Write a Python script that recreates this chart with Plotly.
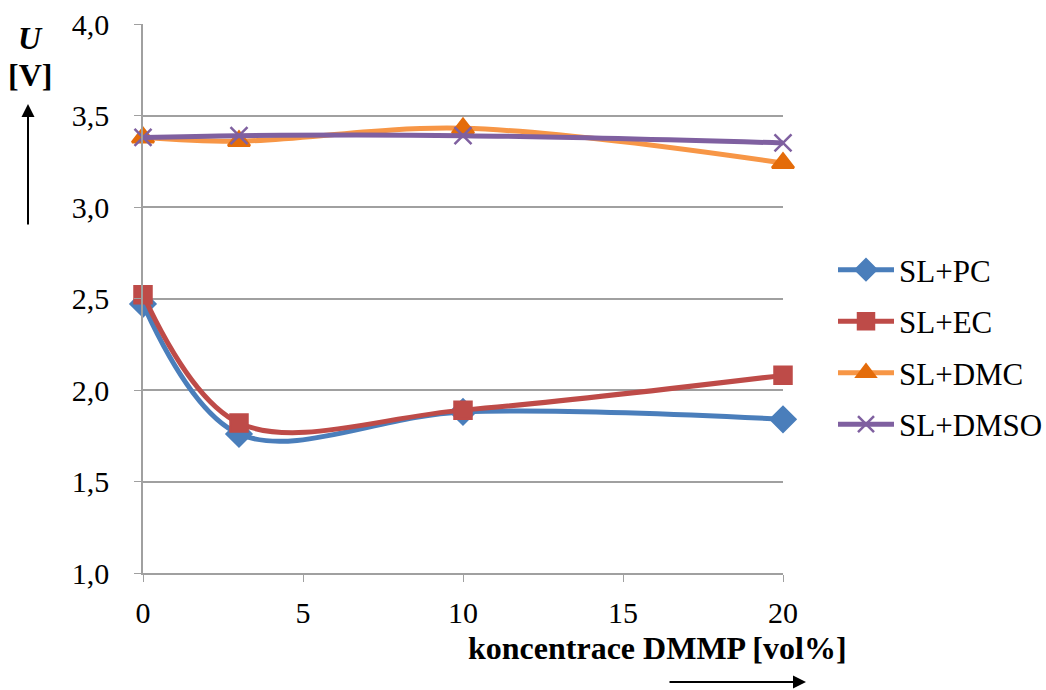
import plotly.graph_objects as go

# DMMP concentration [vol%]
konc = [0, 3, 10, 20]

# Cell voltage U [V] for each electrolyte
u_pc = [2.47, 1.76, 1.88, 1.84]
u_ec = [2.52, 1.82, 1.89, 2.08]
u_dmc = [3.38, 3.36, 3.43, 3.24]
u_dmso = [3.38, 3.39, 3.39, 3.35]

series = [
    ("SL+PC", u_pc, "#4A7EBB", "#4A7EBB", "diamond", 19),
    ("SL+EC", u_ec, "#BE4B48", "#BE4B48", "square", 17),
    ("SL+DMC", u_dmc, "#F79646", "#E46C0A", "triangle-up", 19),
    ("SL+DMSO", u_dmso, "#7F60A0", "#7F60A0", "x-thin", 17),
]

FONT = "Liberation Serif"

W, H = 1046, 690
L, R, T, B = 143, 263, 24, 117
pw, ph = W - L - R, H - T - B


def px(x):
    return (x - L) / pw


def py(y):
    return 1 - (y - T) / ph


fig = go.Figure()
legend_y = [270, 321.5, 373, 424.5]
layout_legends = {}
for i, (name, vals, lc, mc, sym, sz) in enumerate(series):
    lg = "legend" if i == 0 else f"legend{i + 1}"
    fig.add_trace(go.Scatter(
        x=konc, y=vals, name=name, mode="lines+markers",
        line=dict(color=lc, width=5, shape="spline", smoothing=1.0),
        marker=dict(symbol=sym, size=sz, color=mc,
                    line=dict(color=mc, width=2.5)),
        cliponaxis=False, legend=lg,
    ))
    layout_legends[lg] = dict(
        x=px(833), y=py(legend_y[i]), xanchor="left", yanchor="middle",
        font=dict(family=FONT, size=31), itemwidth=56,
        bgcolor="rgba(0,0,0,0)")

fig.update_layout(
    width=W, height=H,
    margin=dict(l=L, r=R, t=T, b=B, pad=0, autoexpand=False),
    paper_bgcolor="white", plot_bgcolor="white",
    separators=", ",
    font=dict(family=FONT, size=30, color="black"),
    showlegend=True,
    xaxis=dict(range=[0, 20], tickvals=[0, 5, 10, 15, 20],
               showgrid=False, zeroline=False, automargin=False,
               showline=True, linecolor="#A0A0A0", linewidth=1.5,
               ticks="outside", ticklen=7, tickcolor="#A0A0A0",
               ticklabelstandoff=5,
               tickfont=dict(family=FONT, size=30)),
    yaxis=dict(range=[1.0, 4.0], tickvals=[1.0, 1.5, 2.0, 2.5, 3.0, 3.5, 4.0],
               tickformat=".1f", automargin=False,
               showgrid=True, gridcolor="#A0A0A0", gridwidth=1.5,
               zeroline=False,
               showline=True, linecolor="#A0A0A0", linewidth=1.5,
               ticks="outside", ticklen=7, tickcolor="#A0A0A0",
               ticklabelstandoff=19,
               tickfont=dict(family=FONT, size=30)),
    **layout_legends,
)

annotations = [
    dict(text="<b><i>U</i></b>", x=px(30), y=py(38)),
    dict(text="<b>[V]</b>", x=px(30), y=py(75)),
    dict(text="<b>koncentrace DMMP [vol%]</b>", x=px(657), y=py(648)),
]
for a in annotations:
    a.update(xref="paper", yref="paper", showarrow=False,
             xanchor="center", yanchor="middle",
             font=dict(family=FONT, size=32))
    fig.add_annotation(**a)

# direction arrows next to the axis titles
fig.add_annotation(xref="paper", yref="paper", axref="pixel", ayref="pixel",
                   x=px(28), y=py(104), ax=0, ay=122, text="",
                   showarrow=True, arrowhead=2, arrowsize=1.3,
                   arrowwidth=2, arrowcolor="black")
fig.add_annotation(xref="paper", yref="paper", axref="pixel", ayref="pixel",
                   x=px(806), y=py(682), ax=-138, ay=0, text="",
                   showarrow=True, arrowhead=2, arrowsize=1.3,
                   arrowwidth=2, arrowcolor="black")

fig.write_html("out.html")
